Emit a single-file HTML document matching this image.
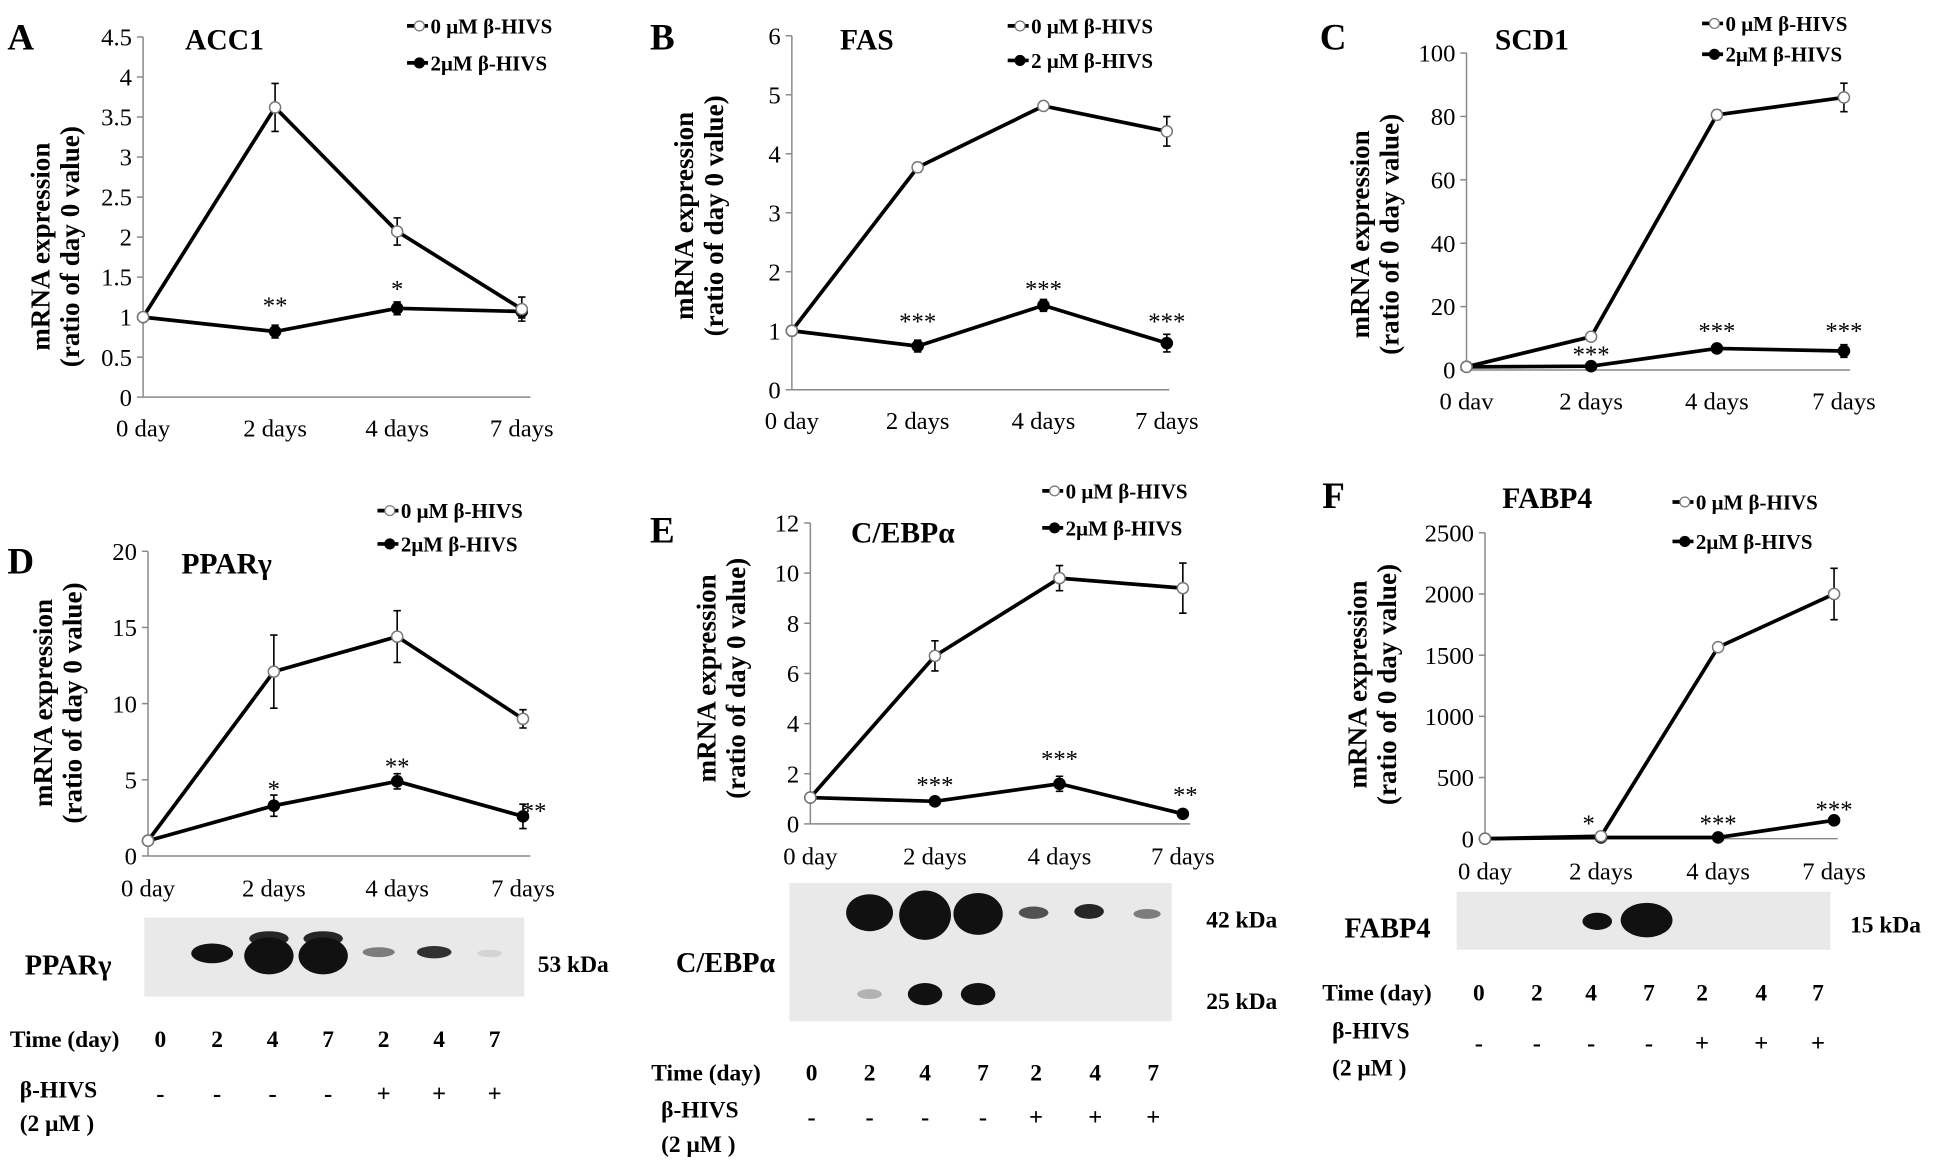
<!DOCTYPE html>
<html><head><meta charset="utf-8">
<style>
html,body{margin:0;padding:0;background:#fff;}
svg{display:block;}
text{font-family:"Liberation Serif",serif;fill:#000;}
.b{font-weight:bold;}
</style></head>
<body>
<svg id="fig" width="1934" height="1168" viewBox="0 0 1568 947" xmlns="http://www.w3.org/2000/svg">
<rect width="1568" height="947" fill="#fff"/>
<g id="root"></g>
</svg>
<script>
const categories = ["0 day","2 days","4 days","7 days"];
const categoriesC = ["0 dav","2 days","4 days","7 days"];
const accOpen = [1, 3.62, 2.07, 1.1];
const accOpenErr = [0, 0.3, 0.17, 0.15];
const accClosed = [1, 0.82, 1.11, 1.07];
const accClosedErr = [0, 0.08, 0.08, 0.08];
const accStars = ["", "**", "*", ""];
const fasOpen = [1, 3.77, 4.81, 4.38];
const fasOpenErr = [0, 0.08, 0.07, 0.25];
const fasClosed = [1, 0.74, 1.43, 0.79];
const fasClosedErr = [0, 0.1, 0.1, 0.15];
const fasStars = ["", "***", "***", "***"];
const scdOpen = [1, 10.5, 80.5, 86];
const scdOpenErr = [0, 1, 1.5, 4.5];
const scdClosed = [1, 1.2, 6.8, 6];
const scdClosedErr = [0, 0.5, 1, 2];
const scdStars = ["", "***", "***", "***"];
const ppaOpen = [1, 12.1, 14.4, 9];
const ppaOpenErr = [0, 2.4, 1.7, 0.6];
const ppaClosed = [1, 3.3, 4.9, 2.6];
const ppaClosedErr = [0, 0.7, 0.5, 0.8];
const ppaStars = ["", "*", "**", "**"];
const cebOpen = [1.05, 6.7, 9.8, 9.4];
const cebOpenErr = [0, 0.6, 0.5, 1];
const cebClosed = [1.05, 0.9, 1.6, 0.4];
const cebClosedErr = [0, 0.1, 0.3, 0.1];
const cebStars = ["", "***", "***", "**"];
const fabOpen = [0, 20, 1565, 2000];
const fabOpenErr = [0, 5, 10, 210];
const fabClosed = [0, 10, 10, 150];
const fabClosedErr = [0, 5, 5, 10];
const fabStars = ["", "*", "***", "***"];
const ticksA = [0,0.5,1,1.5,2,2.5,3,3.5,4,4.5];
const ticksB = [0,1,2,3,4,5,6];
const ticksC = [0,20,40,60,80,100];
const ticksD = [0,5,10,15,20];
const ticksE = [0,2,4,6,8,10,12];
const ticksF = [0,500,1000,1500,2000,2500];
const blotDays = ["0","2","4","7","2","4","7"];
const blotTreat = ["-","-","-","-","+","+","+"];

const NS="http://www.w3.org/2000/svg";
const root=document.getElementById('root');
function mk(tag,attrs,parent,txt){const e=document.createElementNS(NS,tag);for(const k in attrs)e.setAttribute(k,attrs[k]);if(txt!==undefined)e.textContent=txt;(parent||root).appendChild(e);return e;}

function panel(p){
  const g=mk('g',{});
  
  
  const ymax=p.ticks[p.ticks.length-1];
  const Y=v=>p.y0-(v/ymax)*(p.y0-p.ytop);
  const X=i=>p.xs[i];
  let e=mk('line',{x1:p.ax,y1:p.ytop,x2:p.ax,y2:p.y0,stroke:'#888','stroke-width':1.2},g);
  
  
  e=mk('line',{x1:p.ax,y1:p.y0,x2:p.xend,y2:p.y0,stroke:'#888','stroke-width':1.2},g);
  
  
  p.ticks.forEach(t=>{
    mk('line',{x1:p.ax-5,y1:Y(t),x2:p.ax,y2:Y(t),stroke:'#888','stroke-width':1.2},g);
    const tl=mk('text',{x:p.ax-9,y:Y(t)+7,'text-anchor':'end','font-size':20},g,String(t));
    
    
  });
  p.cats.forEach((c,i)=>{
    const xl=mk('text',{x:X(i),y:p.xly,'text-anchor':'middle','font-size':20},g,c);
    
    
  });
  e=mk('text',{x:p.lx,y:p.ty,'font-size':30,class:'b'},g,p.id);
  
  
  e=mk('text',{x:p.tx,y:p.ty,'font-size':24,class:'b'},g,p.title);
  
  
  const yl=mk('text',{transform:`translate(${p.ylx},${p.yly}) rotate(-90)`,'text-anchor':'middle','font-size':22,class:'b'},g);
  
  
  mk('tspan',{x:0,y:0},yl,'mRNA expression');
  mk('tspan',{x:0,y:24},yl,p.ylab);
  [[p.closed,p.closedErr,'#000','closed'],[p.open,p.openErr,'#fff','open']].forEach(([vals,errs,fill,nm])=>{
    const pts=vals.map((v,i)=>X(i)+','+Y(v)).join(' ');
    const ln=mk('polyline',{points:pts,fill:'none',stroke:'#000','stroke-width':3},g);
    
    
    vals.forEach((v,i)=>{
      if(errs[i]>0){
        const y1=Y(v+errs[i]),y2=Y(v-errs[i]);
        mk('path',{d:`M${X(i)},${y1}V${y2}M${X(i)-3},${y1}h6M${X(i)-3},${y2}h6`,stroke:'#000','stroke-width':1.3,fill:'none'},g);
      }
      const pt=mk('circle',{cx:X(i),cy:Y(v),r:4.5,fill:fill,stroke:fill=='#fff'?'#777':'#000','stroke-width':1.2},g);
      
      
    });
  });
  p.stars.forEach((s,i)=>{
    if(!s)return;
    const st=mk('text',{x:X(i)+(p.starDx?p.starDx[i]:0),y:p.starY[i]+9,'text-anchor':'middle','font-size':20},g,s);
    
    
  });
  [[p.legY[0],'#fff','0 μM β-HIVS'],[p.legY[1],'#000',p.leg2]].forEach(([ly,f,t])=>{
    const lg=mk('g',{},g);
    
    
    mk('line',{x1:p.legX,y1:ly,x2:p.legX+17,y2:ly,stroke:'#000','stroke-width':3},lg);
    mk('circle',{cx:p.legX+10,cy:ly,r:4,fill:f,stroke:f=='#fff'?'#777':'#000'},lg);
    mk('text',{x:p.legX+19,y:ly+6,'font-size':17,class:'b'},lg,t);
  });
}

panel({id:'A',title:'ACC1',ax:116,xend:430,ytop:30,y0:322,xs:[116,223,322,423],cats:categories,xly:354,ticks:ticksA,
 open:accOpen,openErr:accOpenErr,closed:accClosed,closedErr:accClosedErr,stars:accStars,starY:[0,245,232,0],
 lx:6,tx:150,ty:40,ylx:40,yly:200,ylab:'(ratio of day 0 value)',legX:330,legY:[21,51],leg2:'2μM β-HIVS'});
panel({id:'B',title:'FAS',ax:642,xend:948,ytop:29,y0:316,xs:[642,744,846,946],cats:categories,xly:348,ticks:ticksB,
 open:fasOpen,openErr:fasOpenErr,closed:fasClosed,closedErr:fasClosedErr,stars:fasStars,starY:[0,258,232,258],
 lx:527,tx:681,ty:40,ylx:562,yly:175,ylab:'(ratio of day 0 value)',legX:817,legY:[21,49],leg2:'2 μM β-HIVS'});
panel({id:'C',title:'SCD1',ax:1189,xend:1500,ytop:43,y0:300,xs:[1189,1290,1392,1495],cats:categoriesC,xly:332,ticks:ticksC,
 open:scdOpen,openErr:scdOpenErr,closed:scdClosed,closedErr:scdClosedErr,stars:scdStars,starY:[0,285,266,266],
 lx:1070,tx:1212,ty:40,ylx:1110,yly:190,ylab:'(ratio of 0 day value)',legX:1380,legY:[19,44],leg2:'2μM β-HIVS'});
panel({id:'D',title:'PPARγ',ax:120,xend:430,ytop:447,y0:694,xs:[120,222,322,424],cats:categories,xly:727,ticks:ticksD,
 open:ppaOpen,openErr:ppaOpenErr,closed:ppaClosed,closedErr:ppaClosedErr,stars:ppaStars,starY:[0,637,619,655],starDx:[0,0,0,9],
 lx:6,tx:147,ty:465,ylx:42,yly:570,ylab:'(ratio of day 0 value)',legX:306,legY:[414,441],leg2:'2μM β-HIVS'});
panel({id:'E',title:'C/EBPα',ax:657,xend:965,ytop:424,y0:668,xs:[657,758,859,959],cats:categories,xly:701,ticks:ticksE,
 open:cebOpen,openErr:cebOpenErr,closed:cebClosed,closedErr:cebClosedErr,stars:cebStars,starY:[0,634,613,642],starDx:[0,0,0,2],
 lx:527,tx:690,ty:440,ylx:580,yly:550,ylab:'(ratio of day 0 value)',legX:845,legY:[398,428],leg2:'2μM β-HIVS'});
panel({id:'F',title:'FABP4',ax:1204,xend:1490,ytop:432,y0:680,xs:[1204,1298,1393,1487],cats:categories,xly:713,ticks:ticksF,
 open:fabOpen,openErr:fabOpenErr,closed:fabClosed,closedErr:fabClosedErr,stars:fabStars,starY:[0,665,665,654],starDx:[0,-10,0,0],
 lx:1072,tx:1218,ty:412,ylx:1108,yly:555,ylab:'(ratio of 0 day value)',legX:1356,legY:[407,439],leg2:'2μM β-HIVS'});

function blot(name,x,y,w,h,bands){
  const g=mk('g',{});
  
  
  mk('rect',{x:x,y:y,width:w,height:h,fill:'#e9e9e9'},g);
  bands.forEach(b=>mk('ellipse',{cx:b[0],cy:b[1],rx:b[2],ry:b[3],fill:'#111','fill-opacity':b[4]},g));
}
blot('western-blot-ppar',117,744,308,64,[[172,773,17,8,1],[218,775,20,15,1],[218,761,16,6,0.9],[262,775,20,15,1],[262,761,16,6,0.9],[307,772,13,4,0.5],[352,772,14,5,0.85],[397,773,10,3,0.1]]);
blot('western-blot-cebp',640,716,310,112,[[705,740,19,15,1],[750,742,21,20,1],[793,741,20,17,1],[838,740,12,5,0.7],[883,739,12,6,0.9],[930,741,11,4,0.5],[705,806,10,4,0.25],[750,806,14,9,1],[793,806,14,9,1]]);
blot('western-blot-fabp4',1181,723,303,47,[[1295,747,12,7,1],[1335,746,21,14,1]]);

function txt(t,x,y,sz,name,anchor){
  const e=mk('text',{x:x,y:y,'font-size':sz,'text-anchor':anchor||'start',class:'b'},root,t);
  
  
}
txt('PPARγ',20,790,23,'blot-label');
txt('53 kDa',436,788,19,'kda-label');
txt('C/EBPα',548,788,23,'blot-label');
txt('42 kDa',978,752,19,'kda-label');
txt('25 kDa',978,818,19,'kda-label');
txt('FABP4',1090,760,23,'blot-label');
txt('15 kDa',1500,756,19,'kda-label');

function lanes(xs,tY,sY,hx,hy,label2y){
  txt('Time (day)',hx,tY,19,'time-row-label');
  txt('β-HIVS',hx+8,hy,19,'treatment-label');
  txt('(2 μM )',hx+8,label2y,19,'treatment-concentration');
  blotDays.forEach((d,i)=>txt(d,xs[i],tY,19,'lane-day','middle'));
  blotTreat.forEach((d,i)=>txt(d,xs[i],sY,20,'lane-treatment','middle'));
}
lanes([130,176,221,266,311,356,401],849,893,8,890,917);
lanes([658,705,750,797,840,888,935],876,912,528,906,934);
lanes([1199,1246,1290,1337,1380,1428,1474],811,852,1072,842,872);
</script>
</body></html>
